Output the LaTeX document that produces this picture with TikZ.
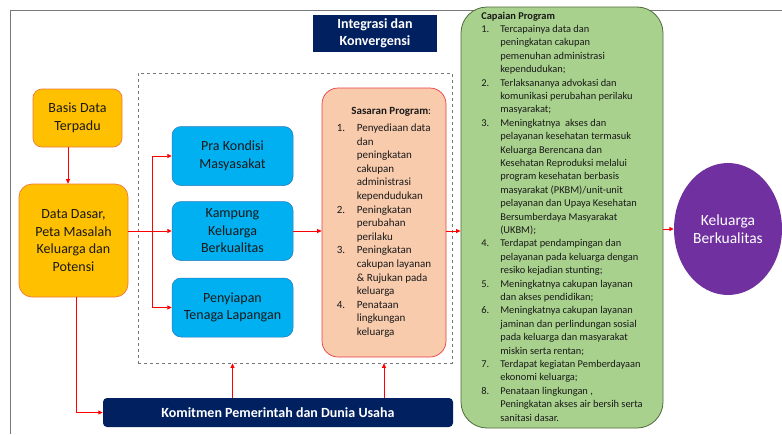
\documentclass[tikz,border=0pt]{standalone}
\usepackage{fontspec}
\setmainfont{Carlito}
\usetikzlibrary{arrows.meta,shapes.geometric}

\definecolor{kuning}{RGB}{255,192,0}
\definecolor{kuningtepi}{RGB}{240,120,60}
\definecolor{biru}{RGB}{0,176,240}
\definecolor{birutepi}{RGB}{40,120,190}
\definecolor{peach}{RGB}{248,203,173}
\definecolor{peachtepi}{RGB}{232,60,60}
\definecolor{hijau}{RGB}{169,209,142}
\definecolor{hijautepi}{RGB}{80,105,60}
\definecolor{navy}{RGB}{0,32,96}
\definecolor{ungu}{RGB}{112,48,160}
\definecolor{bingkai}{RGB}{120,120,120}

\tikzset{
  box/.style={align=center, inner sep=2pt, text=black!90,
    font=\fontsize{14}{17.5}\selectfont},
  databox/.style={box, draw=kuningtepi, fill=kuning, line width=0.7pt},
  stepbox/.style={box, draw=birutepi, fill=biru, line width=0.5pt,
    rounded corners=9pt, minimum width=121pt, minimum height=59pt},
  navybox/.style={box, fill=navy, text=white,
    font=\fontsize{14}{17.5}\selectfont\bfseries},
  listbox/.style={inner sep=0pt, text=black!90,
    font=\fontsize{10.4}{13.4}\selectfont},
  arr/.style={draw=red, line width=0.9pt, -{Triangle[length=4.5pt,width=4pt]}},
}

\begin{document}
\begin{tikzpicture}[x=1pt,y=-1pt]
\useasboundingbox (0,0) rectangle (782,434);
\draw[bingkai, line width=1pt] (10,434) -- (10,10) -- (782,10);

\node[box, draw=bingkai, dashed, line width=0.7pt, minimum width=314pt,
  minimum height=290pt] (zona) at (295,218) {};

\node[databox, rounded corners=9pt, minimum width=89pt, minimum height=58pt]
  (basis) at (77.5,118) {Basis Data\\Terpadu};
\node[databox, rounded corners=13pt, minimum width=109pt, minimum height=113pt]
  (dasar) at (73.5,240.5) {Data Dasar,\\Peta Masalah\\Keluarga dan\\Potensi};

\node[stepbox] (pra) at (232.5,156) {Pra Kondisi\\Masyasakat};
\node[stepbox] (kampung) at (232.5,231) {Kampung\\Keluarga\\Berkualitas};
\node[stepbox] (siap) at (232.5,307.5) {Penyiapan\\Tenaga Lapangan};

\node[listbox, draw=peachtepi, fill=peach, line width=0.7pt, rounded corners=16pt,
  minimum width=124pt, minimum height=269pt, font=\fontsize{11}{13.6}\selectfont]
  (sasaran) at (384,222.5) {%
  \begin{tabular}{@{}p{20pt}@{}l@{}}
  \multicolumn{2}{@{}r@{}}{\textbf{Sasaran Program}:}\\[3pt]
  1. & Penyediaan data\\
     & dan\\
     & peningkatan\\
     & cakupan\\
     & administrasi\\
     & kependudukan\\
  2. & Peningkatan\\
     & perubahan\\
     & perilaku\\
  3. & Peningkatan\\
     & cakupan layanan\\
     & \& Rujukan pada\\
     & keluarga\\
  4. & Penataan\\
     & lingkungan\\
     & keluarga
  \end{tabular}};

\node[navybox, minimum width=124pt, minimum height=37pt]
  (integrasi) at (375,33.5) {Integrasi dan\\Konvergensi};
\node[navybox, rounded corners=4pt, minimum width=350pt, minimum height=29pt]
  (komitmen) at (278,412.5) {Komitmen Pemerintah dan Dunia Usaha};

\node[listbox, draw=hijautepi, fill=hijau, line width=0.8pt, rounded corners=26pt,
  minimum width=202pt, minimum height=421pt] (capaian) at (562,217.5) {%
  \begin{tabular}{@{}p{19pt}@{}l@{}}
  \multicolumn{2}{@{}l@{}}{\textbf{Capaian Program}}\\
  1. & Tercapainya data dan\\
     & peningkatan cakupan\\
     & pemenuhan administrasi\\
     & kependudukan;\\
  2. & Terlaksananya advokasi dan\\
     & komunikasi perubahan perilaku\\
     & masyarakat;\\
  3. & Meningkatnya\ \ akses dan\\
     & pelayanan kesehatan termasuk\\
     & Keluarga Berencana dan\\
     & Kesehatan Reproduksi melalui\\
     & program kesehatan berbasis\\
     & masyarakat (PKBM)/unit-unit\\
     & pelayanan dan Upaya Kesehatan\\
     & Bersumberdaya Masyarakat\\
     & (UKBM);\\
  4. & Terdapat pendampingan dan\\
     & pelayanan pada keluarga dengan\\
     & resiko kejadian stunting;\\
  5. & Meningkatnya cakupan layanan\\
     & dan akses pendidikan;\\
  6. & Meningkatnya cakupan layanan\\
     & jaminan dan perlindungan sosial\\
     & pada keluarga dan masyarakat\\
     & miskin serta rentan;\\
  7. & Terdapat kegiatan Pemberdayaan\\
     & ekonomi keluarga;\\
  8. & Penataan lingkungan ,\\
     & Peningkatan akses air bersih serta\\
     & sanitasi dasar.
  \end{tabular}};

\node[box, ellipse, fill=ungu, text=white, inner sep=0pt, minimum width=108pt,
  minimum height=132pt, font=\fontsize{15.5}{18.5}\selectfont]
  (tujuan) at (728,229) {Keluarga\\Berkualitas};

\draw[arr] ([xshift=-9.5pt]basis.south) -- ([xshift=-9.5pt]basis.south |- dasar.north);
\draw[arr] (kampung.west -| dasar.east) -- (kampung.west);
\draw[red, line width=0.9pt] ([xshift=-19pt]pra.west) -- ([xshift=-19pt]siap.west);
\draw[arr] ([xshift=-19pt]pra.west) -- (pra.west);
\draw[arr] ([xshift=-19pt]siap.west) -- (siap.west);
\draw[arr] (kampung.east) -- (kampung.east -| sasaran.west);
\draw[arr] (kampung.east -| sasaran.east) -- (kampung.east -| capaian.west);
\draw[arr] (tujuan.west -| capaian.east) -- (tujuan.west);
\draw[arr] ([xshift=2.5pt]dasar.south) |- (komitmen.west);
\draw[arr] (komitmen.north -| pra) -- (zona.south -| pra);
\draw[arr] (komitmen.north -| sasaran) -- (zona.south -| sasaran);
\end{tikzpicture}
\end{document}
